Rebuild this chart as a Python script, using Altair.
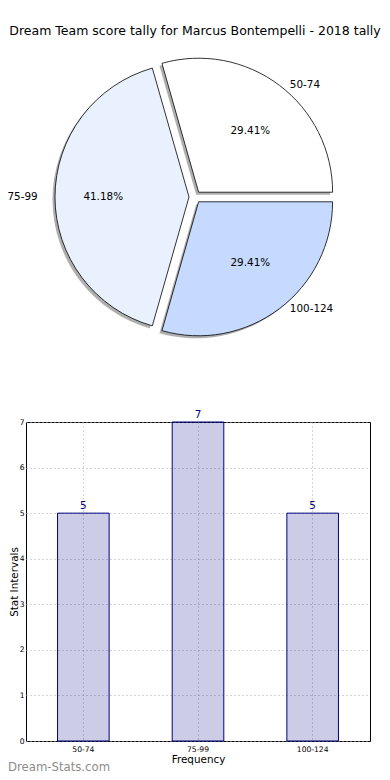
import altair as alt
import pandas as pd

# ---- data ----
labels = ["50-74", "75-99", "100-124"]
counts = [5, 7, 5]
pie_colors = ["#ffffff", "#eaf1fe", "#c6d9fe"]
title_text = "Dream Team score tally for Marcus Bontempelli - 2018 tally"
watermark = "Dream-Stats.com"
y_ticks = list(range(0, max(counts) + 1))

FONT = "DejaVu Sans"

# ---- layout constants (pixels inside the pie panel) ----
CX, CY = 169, 188
R = 134
RX, RY = 143, 127.5
EXP = 6
SHX, SHY = -2.5, 2.5

pie_df = pd.DataFrame({"label": labels, "count": counts, "k": list(range(len(labels)))})

pie_base = (
    alt.Chart(pie_df)
    .transform_joinaggregate(total="sum(count)")
    .transform_window(cum="sum(count)", sort=[alt.SortField("k", order="ascending")])
    .transform_calculate(
        t1="2.5*PI - 2*PI*datum.cum/datum.total",
        t2="2.5*PI - 2*PI*(datum.cum - datum.count)/datum.total",
    )
    .transform_calculate(mid="(datum.t1 + datum.t2)/2")
    .transform_calculate(
        cx=f"{CX} + {EXP}*sin(datum.mid)",
        cy=f"{CY} - {EXP}*cos(datum.mid)",
        pct="format(100*datum.count/datum.total, '.2f') + '%'",
    )
    .transform_calculate(
        sx=f"datum.cx + ({SHX})",
        sy=f"datum.cy + ({SHY})",
        px=f"datum.cx + {0.6 * RX}*sin(datum.mid)",
        py=f"datum.cy - {0.6 * RY}*cos(datum.mid)",
        lx=f"{CX} + {1.1 * RX}*sin(datum.mid)",
        ly=f"{CY} - {1.1 * RY}*cos(datum.mid)",
        side="sin(datum.mid) > 0 ? 'right' : 'left'",
    )
)

theta_enc = alt.Theta("t1:Q", scale=None, stack=False)
theta2_enc = alt.Theta2("t2:Q")

shadow = pie_base.mark_arc(outerRadius=R, fill="#4d4d4d", opacity=0.45).encode(
    theta=theta_enc,
    theta2=theta2_enc,
    x=alt.X("sx:Q", scale=None),
    y=alt.Y("sy:Q", scale=None),
)

slices = pie_base.mark_arc(outerRadius=R, stroke="black", strokeWidth=0.8).encode(
    theta=theta_enc,
    theta2=theta2_enc,
    x=alt.X("cx:Q", scale=None),
    y=alt.Y("cy:Q", scale=None),
    fill=alt.Fill("label:N", scale=alt.Scale(domain=labels, range=pie_colors), legend=None),
)

pct_text = pie_base.mark_text(font=FONT, fontSize=10.4, color="black").encode(
    x=alt.X("px:Q", scale=None),
    y=alt.Y("py:Q", scale=None),
    text="pct:N",
)

lab_right = pie_base.transform_filter("datum.side == 'right'").mark_text(
    font=FONT, fontSize=10.4, color="black", align="left", baseline="middle"
).encode(x=alt.X("lx:Q", scale=None), y=alt.Y("ly:Q", scale=None), text="label:N")

lab_left = pie_base.transform_filter("datum.side == 'left'").mark_text(
    font=FONT, fontSize=10.4, color="black", align="right", baseline="middle"
).encode(x=alt.X("lx:Q", scale=None), y=alt.Y("ly:Q", scale=None), text="label:N")

title = alt.Chart(pd.DataFrame({"t": [title_text]})).mark_text(
    font=FONT, fontSize=12.5, color="black", align="center", baseline="middle"
).encode(x=alt.value(169), y=alt.value(22), text="t:N")

pie = alt.layer(shadow, slices, pct_text, lab_right, lab_left, title).properties(
    width=340, height=400, view=alt.ViewBackground(stroke="transparent")
)

# ---- bar chart ----
bar_df = pd.DataFrame({"label": labels, "count": counts})

x_enc = alt.X(
    "label:N",
    sort=labels,
    scale=alt.Scale(paddingInner=0.55, paddingOuter=0.275),
    axis=alt.Axis(
        title="Frequency", labelAngle=0, labelFont=FONT, labelFontSize=7.6, labelColor="black",
        titleFont=FONT, titleFontSize=10.4, titleFontWeight="normal", titleColor="black",
        titlePadding=2, labelPadding=4, ticks=False, domain=False,
        grid=True, gridDash=[1, 3], gridColor="#aaaaaa", bandPosition=0.5,
    ),
)
y_enc = alt.Y(
    "count:Q",
    scale=alt.Scale(domain=[0, max(counts)], nice=False),
    axis=alt.Axis(
        title="Stat Intervals", values=y_ticks, labelFont=FONT, labelFontSize=7.6, labelColor="black",
        titleFont=FONT, titleFontSize=10.4, titleFontWeight="normal", titleColor="black",
        titlePadding=0, labelPadding=2, ticks=False, domain=False,
        grid=True, gridDash=[1, 3], gridColor="#aaaaaa",
    ),
)

bars = alt.Chart(bar_df).mark_bar(
    fill="#000080", fillOpacity=0.2, stroke="#000080", strokeWidth=1
).encode(x=x_enc, y=y_enc)

bar_text = alt.Chart(bar_df).mark_text(
    font=FONT, fontSize=10.4, color="#000080", baseline="bottom", dy=-2
).encode(x=alt.X("label:N", sort=labels), y="count:Q", text="count:Q")

wm = alt.Chart(pd.DataFrame({"t": [watermark]})).mark_text(
    font=FONT, fontSize=11.7, color="#8c8c8c", align="left", baseline="middle"
).encode(x=alt.value(-18), y=alt.value(345), text="t:N")

bar = alt.layer(bars, bar_text, wm).properties(
    width=344, height=319, view=alt.ViewBackground(stroke="black", strokeWidth=1)
)

chart = (
    alt.vconcat(pie, bar, spacing=13, bounds="flush")
    .properties(padding={"left": -1, "top": 0, "right": 0, "bottom": 0})
    .configure_view(strokeWidth=1)
)

chart.save("out.html", embed_options={"renderer": "svg", "actions": False})
